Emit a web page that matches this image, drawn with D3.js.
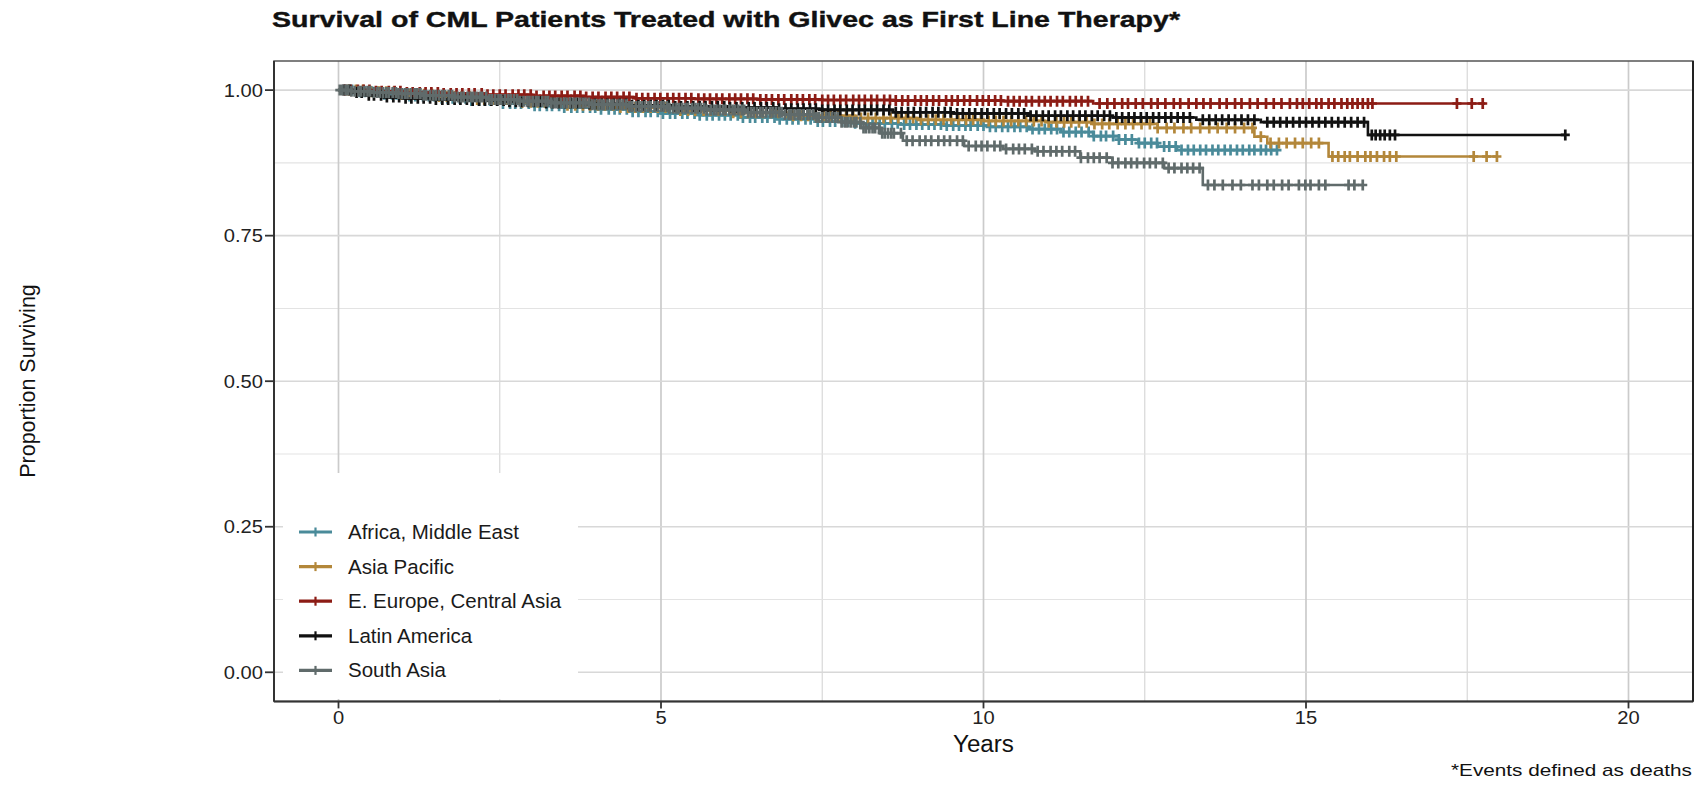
<!DOCTYPE html>
<html><head><meta charset="utf-8">
<script src="https://cdn.jsdelivr.net/npm/d3@7"></script>
<style>body{margin:0;background:#fff}svg{display:block}text{font-family:"Liberation Sans",Arial,sans-serif}</style>
</head><body><svg id="c" width="1698" height="786"></svg>
<script>
// ---------- data ----------
const groups = ["Africa, Middle East","Asia Pacific","E. Europe, Central Asia","Latin America","South Asia"];
const colors = ["#4a8b9a","#b3873a","#8c1c15","#111111","#606b6b"];
const xTicks = [0,5,10,15,20];
const xTickLabels = ["0","5","10","15","20"];
const yTicks = [0,0.25,0.5,0.75,1];
const yTickLabels = ["0.00","0.25","0.50","0.75","1.00"];

// Africa, Middle East
const afrTimes = [0,0.3,0.7,1.1,1.5,2.0,2.5,3.0,3.5,4.0,4.5,5.0,5.6,6.2,6.8,7.4,8.0,8.7,9.4,10.1,10.7,11.2,11.7,12.1,12.4,12.7,13.0];
const afrSurv  = [1,0.997,0.993,0.990,0.986,0.982,0.977,0.973,0.970,0.967,0.963,0.960,0.957,0.953,0.950,0.946,0.943,0.941,0.939,0.937,0.933,0.928,0.921,0.915,0.909,0.903,0.897];
const afrEnd = 14.55;
const afrCensor = [0.12,0.21,0.33,0.41,0.52,0.6,0.71,0.83,0.9,1.02,1.1,1.19,1.31,1.4,1.48,1.6,1.69,1.77,1.88,1.97,2.06,2.18,2.27,2.35,2.46,2.55,2.66,2.74,2.83,2.95,3.04,3.12,3.23,3.31,3.42,3.5,3.61,3.7,3.79,3.9,3.98,4.07,4.19,4.28,4.36,4.47,4.56,4.65,4.76,4.84,4.95,5.03,5.14,5.22,5.33,5.41,5.52,5.6,5.71,5.8,5.9,5.99,6.08,6.19,6.27,6.38,6.46,6.57,6.65,6.76,6.84,6.95,7.04,7.13,7.24,7.32,7.43,7.51,7.62,7.7,7.81,7.9,8.01,8.09,8.2,8.28,8.39,8.47,8.58,8.67,8.77,8.86,8.96,9.05,9.15,9.24,9.34,9.43,9.53,9.62,9.72,9.8,9.91,10.0,10.1,10.19,10.29,10.38,10.48,10.57,10.67,10.76,10.86,10.95,11.05,11.14,11.24,11.33,11.43,11.52,11.63,11.71,11.82,11.9,12.01,12.1,12.2,12.3,12.41,12.5,12.6,12.69,12.8,12.88,12.98,13.07,13.17,13.26,13.36,13.45,13.55,13.64,13.74,13.83,13.93,14.02,14.12,14.2,14.3,14.38,14.46,14.55];

// Asia Pacific
const apTimes = [0,0.4,0.9,1.5,2.1,2.8,3.5,4.3,5.2,6.1,7.0,8.0,9.0,10.0,11.0,11.7,12.7,14.2,14.4,15.35];
const apSurv  = [1,0.997,0.993,0.989,0.984,0.979,0.974,0.970,0.965,0.961,0.956,0.952,0.949,0.947,0.945,0.942,0.935,0.920,0.909,0.886];
const apEnd = 17.96;
const apCensor = [0.15,0.27,0.38,0.5,0.63,0.74,0.86,0.97,1.09,1.22,1.33,1.45,1.56,1.68,1.8,1.91,2.03,2.15,2.26,2.39,2.5,2.62,2.73,2.85,2.98,3.09,3.2,3.32,3.44,3.55,3.67,3.79,3.9,4.02,4.13,4.26,4.37,4.49,4.6,4.72,4.84,4.95,5.07,5.19,5.3,5.42,5.53,5.66,5.77,5.89,6.0,6.12,6.24,6.35,6.47,6.58,6.7,6.82,6.93,7.05,7.17,7.28,7.4,7.52,7.63,7.75,7.87,7.98,8.1,8.21,8.33,8.45,8.56,8.68,8.8,8.91,9.03,9.14,9.26,9.38,9.5,9.61,9.73,9.84,9.96,10.08,10.19,10.31,10.43,10.54,10.66,10.78,10.9,11.01,11.13,11.25,11.36,11.48,11.6,11.72,11.84,11.95,12.08,12.2,12.32,12.45,12.58,12.7,12.84,12.96,13.1,13.22,13.36,13.5,13.63,13.77,13.9,14.04,14.17,14.3,14.45,14.58,14.7,14.83,14.95,15.08,15.2,15.41,15.5,15.6,15.68,15.8,15.92,16.0,16.1,16.21,16.3,16.4,17.6,17.8,17.96];

// E. Europe, Central Asia
const eeTimes = [0,0.5,1.0,1.6,2.3,3.0,3.8,4.6,5.5,6.5,7.5,8.6,10.3,11.7];
const eeSurv  = [1,0.998,0.996,0.994,0.992,0.990,0.988,0.986,0.985,0.984,0.983,0.982,0.981,0.977];
const eeEnd = 17.78;
const eeCensor = [0.1,0.19,0.3,0.39,0.48,0.58,0.67,0.78,0.87,0.96,1.06,1.15,1.26,1.35,1.44,1.54,1.63,1.74,1.83,1.92,2.02,2.11,2.22,2.31,2.4,2.5,2.59,2.7,2.79,2.88,2.98,3.07,3.18,3.27,3.36,3.46,3.55,3.66,3.75,3.84,3.94,4.03,4.14,4.23,4.32,4.42,4.51,4.62,4.71,4.8,4.9,4.99,5.1,5.19,5.28,5.38,5.47,5.58,5.67,5.76,5.86,5.95,6.06,6.15,6.24,6.34,6.43,6.54,6.63,6.72,6.82,6.91,7.02,7.11,7.2,7.3,7.39,7.5,7.59,7.68,7.78,7.87,7.98,8.07,8.16,8.26,8.35,8.46,8.55,8.64,8.74,8.83,8.94,9.03,9.12,9.22,9.31,9.42,9.51,9.6,9.7,9.79,9.9,9.99,10.08,10.18,10.27,10.38,10.47,10.56,10.66,10.75,10.86,10.95,11.04,11.14,11.23,11.34,11.43,11.52,11.62,11.8,11.92,12.03,12.15,12.24,12.36,12.47,12.6,12.7,12.82,12.95,13.05,13.18,13.3,13.41,13.52,13.66,13.77,13.9,14.0,14.13,14.25,14.38,14.5,14.62,14.75,14.86,14.95,15.05,15.16,15.24,15.35,15.44,15.55,15.64,15.72,15.8,15.88,15.96,16.03,17.34,17.57,17.74];

// Latin America
const laTimes = [0,0.2,0.45,0.7,1.0,1.5,2.0,2.6,3.2,3.8,4.5,5.2,6.0,6.8,7.5,8.6,9.5,10.7,12.0,13.3,14.3,15.96];
const laSurv  = [1,0.996,0.991,0.988,0.986,0.984,0.982,0.980,0.978,0.976,0.974,0.972,0.970,0.968,0.966,0.962,0.960,0.956,0.953,0.949,0.945,0.923];
const laEnd = 19.02;
const laCensor = [0.08,0.17,0.28,0.36,0.47,0.55,0.66,0.75,0.85,0.94,1.04,1.13,1.23,1.32,1.42,1.51,1.61,1.7,1.8,1.89,1.99,2.08,2.18,2.27,2.37,2.46,2.56,2.65,2.75,2.84,2.94,3.03,3.13,3.22,3.32,3.41,3.51,3.6,3.7,3.79,3.89,3.98,4.08,4.17,4.27,4.36,4.46,4.55,4.65,4.74,4.84,4.93,5.03,5.12,5.22,5.31,5.41,5.5,5.6,5.69,5.79,5.88,5.98,6.07,6.17,6.26,6.36,6.45,6.55,6.64,6.74,6.83,6.93,7.02,7.12,7.21,7.31,7.4,7.5,7.59,7.69,7.78,7.88,7.97,8.07,8.16,8.26,8.35,8.45,8.54,8.64,8.73,8.83,8.92,9.02,9.11,9.21,9.3,9.4,9.49,9.59,9.68,9.78,9.87,9.97,10.06,10.16,10.25,10.35,10.44,10.54,10.63,10.73,10.82,10.92,11.01,11.11,11.2,11.3,11.39,11.49,11.58,11.68,11.77,11.87,11.96,12.06,12.15,12.25,12.34,12.44,12.53,12.63,12.72,12.82,12.91,13.01,13.1,13.2,13.4,13.5,13.6,13.7,13.8,13.9,14.0,14.1,14.2,14.4,14.5,14.6,14.7,14.8,14.9,15.0,15.1,15.2,15.3,15.4,15.5,15.6,15.7,15.8,15.9,16.02,16.08,16.15,16.22,16.3,16.38,19.02];

// South Asia
const saTimes = [0,0.2,0.5,0.9,1.3,1.8,2.3,2.8,3.3,3.9,4.5,5.1,5.7,6.3,6.9,7.4,7.8,8.1,8.4,8.75,9.7,10.3,10.8,11.5,12.0,12.8,13.4];
const saSurv  = [1,0.998,0.996,0.994,0.991,0.988,0.984,0.981,0.978,0.975,0.972,0.969,0.966,0.962,0.958,0.953,0.945,0.935,0.926,0.913,0.904,0.899,0.895,0.884,0.875,0.866,0.837];
const saEnd = 15.88;
const saCensor = [0.02,0.06,0.11,0.15,0.2,0.25,0.31,0.35,0.4,0.45,0.49,0.55,0.6,0.64,0.69,0.74,0.78,0.84,0.89,0.93,0.98,1.03,1.07,1.12,1.18,1.22,1.27,1.32,1.36,1.42,1.47,1.51,1.56,1.61,1.65,1.71,1.76,1.8,1.85,1.9,1.94,2.0,2.05,2.09,2.14,2.19,2.23,2.29,2.34,2.38,2.43,2.48,2.52,2.58,2.63,2.67,2.72,2.77,2.81,2.87,2.92,2.96,3.01,3.06,3.1,3.16,3.21,3.25,3.3,3.35,3.39,3.45,3.5,3.54,3.59,3.64,3.68,3.74,3.79,3.83,3.88,3.93,3.97,4.03,4.08,4.12,4.17,4.22,4.26,4.32,4.37,4.41,4.46,4.51,4.55,4.61,4.66,4.7,4.75,4.8,4.84,4.9,4.95,5.0,5.04,5.09,5.13,5.19,5.24,5.28,5.33,5.38,5.42,5.48,5.53,5.57,5.62,5.67,5.71,5.77,5.82,5.86,5.91,5.96,6.0,6.06,6.11,6.15,6.2,6.25,6.29,6.35,6.4,6.44,6.49,6.54,6.58,6.63,6.69,6.73,6.78,6.83,6.87,6.92,6.98,7.02,7.07,7.12,7.16,7.21,7.27,7.31,7.36,7.41,7.45,7.5,7.56,7.6,7.65,7.7,7.74,7.8,7.85,7.89,7.94,7.99,8.03,8.09,8.14,8.18,8.23,8.28,8.32,8.38,8.43,8.47,8.52,8.57,8.61,8.72,8.81,8.9,9.01,9.1,9.19,9.3,9.39,9.48,9.59,9.68,9.77,9.88,9.97,10.06,10.17,10.26,10.35,10.46,10.55,10.64,10.75,10.84,10.93,11.04,11.13,11.22,11.33,11.42,11.51,11.62,11.71,11.8,11.91,12.0,12.09,12.2,12.29,12.38,12.49,12.58,12.67,12.78,12.87,12.96,13.07,13.16,13.25,13.35,13.48,13.58,13.71,13.86,13.99,14.17,14.27,14.4,14.5,14.63,14.73,14.89,14.99,15.07,15.2,15.3,15.66,15.75,15.88];

// ---------- chart ----------
const series = [
  {times:afrTimes, surv:afrSurv, end:afrEnd, censor:afrCensor},
  {times:apTimes,  surv:apSurv,  end:apEnd,  censor:apCensor},
  {times:eeTimes,  surv:eeSurv,  end:eeEnd,  censor:eeCensor},
  {times:laTimes,  surv:laSurv,  end:laEnd,  censor:laCensor},
  {times:saTimes,  surv:saSurv,  end:saEnd,  censor:saCensor}
].map((s,i)=>Object.assign(s,{name:groups[i], color:colors[i]}));

const svg = d3.select("#c");
const P = {left:274, right:1693, top:61, bottom:701.4};
const x = d3.scaleLinear().domain([-1,21]).range([P.left,P.right]);
const y = d3.scaleLinear().domain([-0.05,1.05]).range([P.bottom,P.top]);

function stretch(sel, factor, anchor){
  sel.each(function(){
    const t = d3.select(this);
    const L = this.getComputedTextLength();
    const NL = L*factor;
    const x0 = +t.attr("x");
    let nx = x0;
    if (anchor==="end") nx = x0 - NL;
    else if (anchor==="middle") nx = x0 - NL/2;
    t.attr("text-anchor","start").attr("x",nx).attr("textLength",NL).attr("lengthAdjust","spacingAndGlyphs");
  });
}

// grid
const grid = svg.append("g");
const xMinor = d3.pairs(xTicks).map(p=>(p[0]+p[1])/2);
const yMinor = d3.pairs(yTicks).map(p=>(p[0]+p[1])/2);
grid.selectAll(".xm").data(xMinor).enter().append("line")
  .attr("x1",d=>x(d)).attr("x2",d=>x(d)).attr("y1",P.top).attr("y2",P.bottom)
  .attr("stroke","#d8d8d8").attr("stroke-width",1.2);
grid.selectAll(".ym").data(yMinor).enter().append("line")
  .attr("y1",d=>y(d)).attr("y2",d=>y(d)).attr("x1",P.left).attr("x2",P.right)
  .attr("stroke","#e3e3e3").attr("stroke-width",1.1);
grid.selectAll(".xM").data(xTicks).enter().append("line")
  .attr("x1",d=>x(d)).attr("x2",d=>x(d)).attr("y1",P.top).attr("y2",P.bottom)
  .attr("stroke","#cbcbcb").attr("stroke-width",1.7);
grid.selectAll(".yM").data(yTicks).enter().append("line")
  .attr("y1",d=>y(d)).attr("y2",d=>y(d)).attr("x1",P.left).attr("x2",P.right)
  .attr("stroke","#d8d8d8").attr("stroke-width",1.6);

// curves
const curves = svg.append("g");
const line = d3.line().x(d=>x(d[0])).y(d=>y(d[1])).curve(d3.curveStepAfter);
series.forEach(s=>{
  const pts = s.times.map((t,i)=>[t,s.surv[i]]);
  pts.push([s.end, s.surv[s.surv.length-1]]);
  const g = curves.append("g");
  g.append("path").attr("d",line(pts)).attr("fill","none")
    .attr("stroke",s.color).attr("stroke-width",2.6);
  const survAt = t=>{let v=1; s.times.forEach((tt,i)=>{ if(tt<=t) v=s.surv[i]; }); return v;};
  g.selectAll("path.c").data(s.censor).enter().append("path").attr("class","c")
    .attr("d",t=>{const cx=x(t), cy=y(survAt(t)); return `M${cx-4.5},${cy}H${cx+4.5}M${cx},${cy-5.5}V${cy+5.5}`;})
    .attr("fill","none").attr("stroke",s.color).attr("stroke-width",2.7);
});

// legend
const leg = svg.append("g");
leg.append("rect").attr("x",283).attr("y",473).attr("width",295).attr("height",226).attr("fill","#fff");
series.forEach((s,i)=>{
  const cy = 532 + i*34.6;
  leg.append("line").attr("x1",299).attr("x2",332).attr("y1",cy).attr("y2",cy)
    .attr("stroke",s.color).attr("stroke-width",3.2);
  leg.append("line").attr("x1",315.5).attr("x2",315.5).attr("y1",cy-4.5).attr("y2",cy+4.5)
    .attr("stroke",s.color).attr("stroke-width",2.2);
  leg.append("text").attr("x",348).attr("y",cy+7).attr("font-size",20.5).attr("fill","#1a1a1a").text(s.name);
});

// panel border
svg.append("rect").attr("x",P.left).attr("y",P.top).attr("width",P.right-P.left).attr("height",P.bottom-P.top)
  .attr("fill","none").attr("stroke","#555").attr("stroke-width",1.5);
svg.append("line").attr("x1",P.left).attr("x2",P.left).attr("y1",P.top).attr("y2",P.bottom).attr("stroke","#333").attr("stroke-width",2);
svg.append("line").attr("x1",P.left).attr("x2",P.right).attr("y1",P.bottom).attr("y2",P.bottom).attr("stroke","#333").attr("stroke-width",2);
svg.append("line").attr("x1",P.right).attr("x2",P.right).attr("y1",P.top).attr("y2",P.bottom).attr("stroke","#222").attr("stroke-width",2);

// y axis
const yAx = svg.append("g");
yAx.selectAll("line").data(yTicks).enter().append("line")
  .attr("x1",P.left-9).attr("x2",P.left).attr("y1",d=>y(d)).attr("y2",d=>y(d)).attr("stroke","#333").attr("stroke-width",1.8);
yAx.selectAll("text").data(yTicks).enter().append("text")
  .attr("x",263).attr("y",d=>y(d)+6.5).attr("font-size",17.5).attr("fill","#222")
  .text((d,i)=>yTickLabels[i]).call(stretch,1.15,"end");

// x axis
const xAx = svg.append("g");
xAx.selectAll("line").data(xTicks).enter().append("line")
  .attr("y1",P.bottom).attr("y2",P.bottom+7).attr("x1",d=>x(d)).attr("x2",d=>x(d)).attr("stroke","#333").attr("stroke-width",1.8);
xAx.selectAll("text").data(xTicks).enter().append("text")
  .attr("x",d=>x(d)).attr("y",724).attr("font-size",17.5).attr("fill","#222")
  .text((d,i)=>xTickLabels[i]).call(stretch,1.15,"middle");

// titles
svg.append("text").attr("x",(P.left+P.right)/2).attr("y",752).attr("font-size",23).attr("fill","#111")
  .text("Years").call(stretch,1.05,"middle");
svg.append("text").attr("transform","translate(35,381) rotate(-90)").attr("text-anchor","middle")
  .attr("font-size",21.5).attr("fill","#111").text("Proportion Surviving");
svg.append("text").attr("x",272).attr("y",27).attr("font-size",22.5).attr("font-weight","bold").attr("fill","#111")
  .attr("stroke","#111").attr("stroke-width",0.4)
  .text("Survival of CML Patients Treated with Glivec as First Line Therapy*")
  .attr("textLength",908).attr("lengthAdjust","spacingAndGlyphs");
svg.append("text").attr("x",1692).attr("y",776).attr("font-size",17).attr("fill","#111")
  .text("*Events defined as deaths").call(stretch,1.22,"end");
</script>
</body></html>
